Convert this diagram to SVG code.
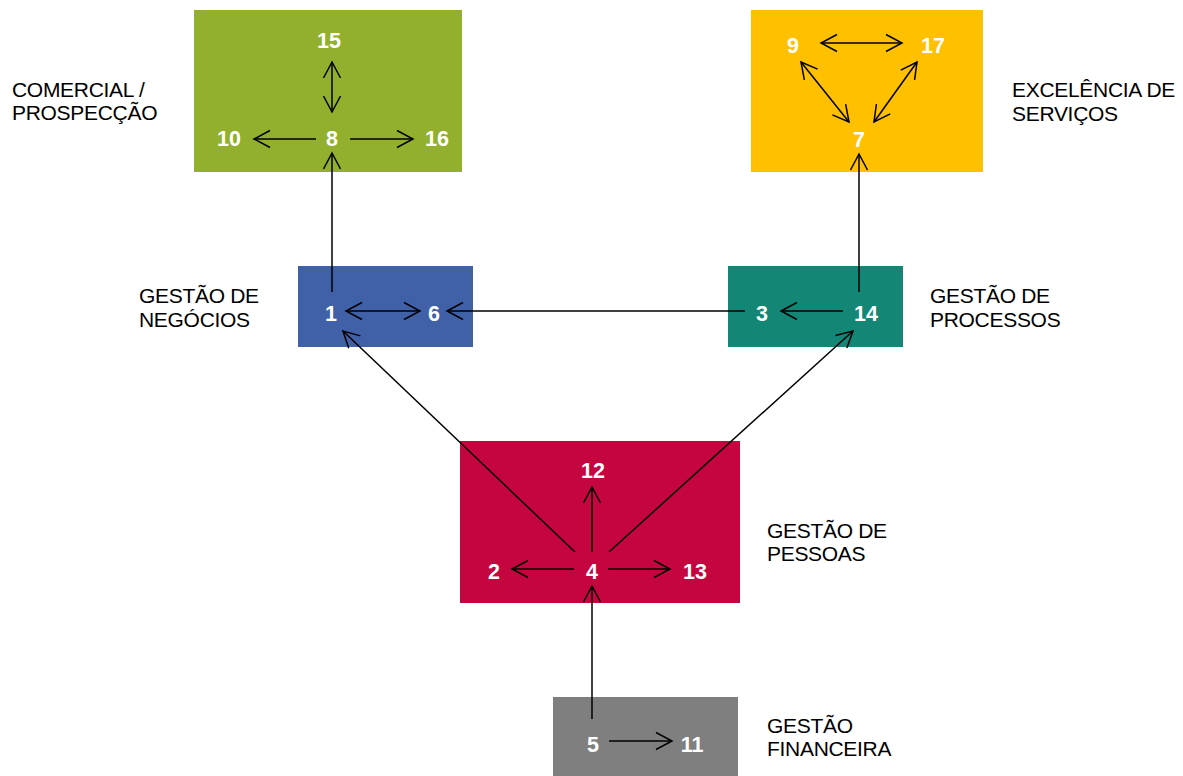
<svg xmlns="http://www.w3.org/2000/svg" width="1183" height="776" viewBox="0 0 1183 776">
  <style>
    .num { font-family: "Liberation Sans", Arial, sans-serif; font-size: 21.5px; font-weight: bold; fill: #ffffff; text-anchor: middle; }
    .lbl { font-family: "Liberation Sans", Arial, sans-serif; font-size: 21px; letter-spacing: -0.3px; fill: #000000; }
    .ln { stroke: #000000; stroke-width: 1.5; fill: none; }
    .arr { marker-end: url(#head); }
    .dbl { marker-start: url(#head); marker-end: url(#head); }
  </style>
  <defs>
    <marker id="head" markerUnits="userSpaceOnUse" markerWidth="20" markerHeight="22" viewBox="-18 -11 20 22" refX="0" refY="0" orient="auto-start-reverse">
      <path d="M-16,-8.5 L0,0 L-16,8.5" fill="none" stroke="#000000" stroke-width="1.5"/>
    </marker>
  </defs>
  <rect width="1183" height="776" fill="#ffffff"/>

  <!-- Comercial / Prospecção -->
  <g id="comercial">
    <rect x="194" y="10" width="268" height="162" fill="#92B02E"/>
    <text class="num" x="329" y="48">15</text>
    <text class="num" x="229" y="146">10</text>
    <text class="num" x="332" y="146">8</text>
    <text class="num" x="437" y="146">16</text>
    <text class="lbl" x="12" y="97">COMERCIAL /</text>
    <text class="lbl" x="12" y="120">PROSPECÇÃO</text>
  </g>

  <!-- Excelência de Serviços -->
  <g id="excelencia">
    <rect x="751" y="10" width="232" height="162" fill="#FFC000"/>
    <text class="num" x="793" y="53">9</text>
    <text class="num" x="933" y="53">17</text>
    <text class="num" x="859" y="147">7</text>
    <text class="lbl" x="1012" y="97">EXCELÊNCIA DE</text>
    <text class="lbl" x="1012" y="121">SERVIÇOS</text>
  </g>

  <!-- Gestão de Negócios -->
  <g id="negocios">
    <rect x="298" y="266" width="175" height="81" fill="#4060A8"/>
    <text class="num" x="331" y="321">1</text>
    <text class="num" x="434" y="321">6</text>
    <text class="lbl" x="139" y="303">GESTÃO DE</text>
    <text class="lbl" x="139" y="327">NEGÓCIOS</text>
  </g>

  <!-- Gestão de Processos -->
  <g id="processos">
    <rect x="728" y="266" width="175" height="81" fill="#138675"/>
    <text class="num" x="762" y="321">3</text>
    <text class="num" x="866" y="321">14</text>
    <text class="lbl" x="930" y="303">GESTÃO DE</text>
    <text class="lbl" x="930" y="327">PROCESSOS</text>
  </g>

  <!-- Gestão de Pessoas -->
  <g id="pessoas">
    <rect x="460" y="441" width="280" height="162" fill="#C40540"/>
    <text class="num" x="593" y="478">12</text>
    <text class="num" x="494" y="579">2</text>
    <text class="num" x="592" y="579">4</text>
    <text class="num" x="695" y="579">13</text>
    <text class="lbl" x="767" y="538">GESTÃO DE</text>
    <text class="lbl" x="767" y="561">PESSOAS</text>
  </g>

  <!-- Gestão Financeira -->
  <g id="financeira">
    <rect x="553" y="697" width="185" height="79" fill="#7F7F7F"/>
    <text class="num" x="593" y="752">5</text>
    <text class="num" x="692" y="752">11</text>
    <text class="lbl" x="767" y="733">GESTÃO</text>
    <text class="lbl" x="767" y="756">FINANCEIRA</text>
  </g>

  <!-- Connectors -->
  <g id="connectors">
    <!-- inside Comercial -->
    <line class="ln dbl" x1="332" y1="62" x2="332" y2="112"/>
    <line class="ln arr" x1="316" y1="139" x2="254" y2="139"/>
    <line class="ln arr" x1="350" y1="139" x2="413" y2="139"/>
    <!-- inside Excelência -->
    <line class="ln dbl" x1="821" y1="43" x2="902" y2="43"/>
    <line class="ln dbl" x1="801" y1="62" x2="849" y2="122"/>
    <line class="ln dbl" x1="917" y1="62" x2="874" y2="122"/>
    <!-- Negócios / Processos -->
    <line class="ln arr" x1="332" y1="292" x2="332" y2="153"/>
    <line class="ln arr" x1="859" y1="292" x2="859" y2="154"/>
    <line class="ln dbl" x1="346" y1="311" x2="420" y2="311"/>
    <line class="ln arr" x1="843" y1="311" x2="781" y2="311"/>
    <line class="ln arr" x1="745" y1="311" x2="447" y2="311"/>
    <!-- Pessoas -->
    <line class="ln arr" x1="575" y1="552" x2="343" y2="331"/>
    <line class="ln arr" x1="609" y1="552" x2="853" y2="331"/>
    <line class="ln arr" x1="592" y1="552" x2="592" y2="487"/>
    <line class="ln arr" x1="574" y1="569" x2="512" y2="569"/>
    <line class="ln arr" x1="608" y1="569" x2="670" y2="569"/>
    <!-- Financeira -->
    <line class="ln arr" x1="592" y1="719" x2="592" y2="586"/>
    <line class="ln arr" x1="609" y1="741" x2="672" y2="741"/>
  </g>
</svg>
